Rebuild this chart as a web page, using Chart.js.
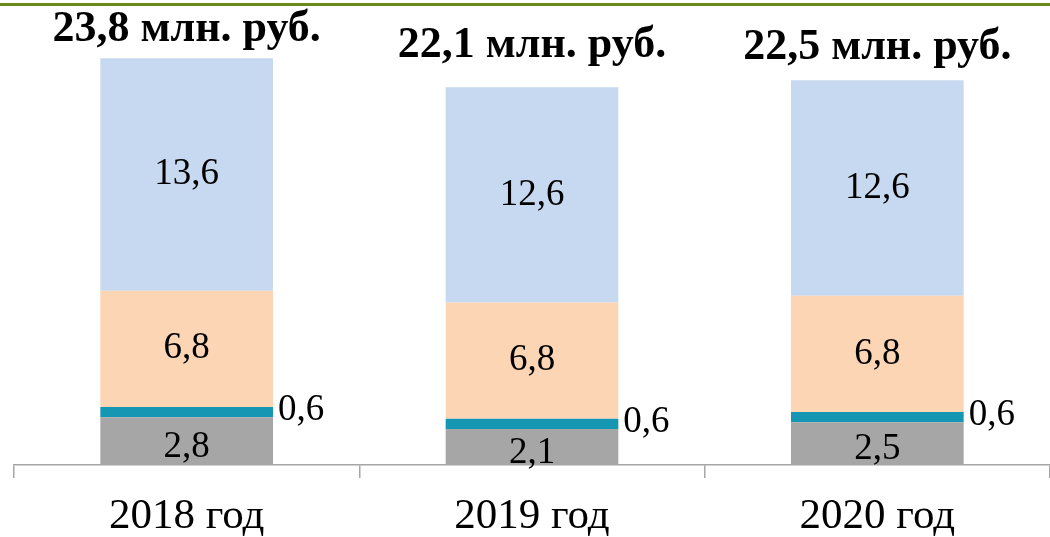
<!DOCTYPE html>
<html>
<head>
<meta charset="utf-8">
<script src="https://cdn.jsdelivr.net/npm/chart.js@4"></script>
<style>
  html, body { margin: 0; padding: 0; background: #fff; }
  #wrap { width: 1050px; height: 537px; position: relative; }
</style>
</head>
<body>
<div id="wrap"><canvas id="chart"></canvas></div>
<script>
// Расходы по годам, млн. руб.
const years = ['2018 год', '2019 год', '2020 год'];
const partGray = [2.8, 2.1, 2.5];
const partTeal = [0.6, 0.6, 0.6];
const partPeach = [6.8, 6.8, 6.8];
const partBlue = [13.6, 12.6, 12.6];
const totals = [23.8, 22.1, 22.5];

const FONT = '"Liberation Serif", "DejaVu Serif", serif';

// total captions sit a little differently above each bar
const totalOffsets = [28, 42, 33];

const labelsPlugin = {
    id: 'segLabels',
    afterDatasetsDraw(chart) {
        const ctx = chart.ctx;
        ctx.save();
        ctx.fillStyle = '#000';
        chart.data.datasets.forEach((ds, di) => {
            const meta = chart.getDatasetMeta(di);
            meta.data.forEach((bar, i) => {
                const v = ds.data[i];
                const txt = v.toFixed(1).replace('.', ',');
                ctx.font = '37px ' + FONT;
                ctx.textBaseline = 'middle';
                if (ds.sideLabel) {
                    ctx.textAlign = 'left';
                    ctx.fillText(txt, bar.x + bar.width / 2 + 5, (bar.y + bar.base) / 2 - 2);
                } else {
                    ctx.textAlign = 'center';
                    ctx.fillText(txt, bar.x, (bar.y + bar.base) / 2 + (ds.labelShift || 0));
                }
            });
        });
        // bold totals above each stack
        const top = chart.getDatasetMeta(chart.data.datasets.length - 1);
        ctx.font = 'bold 44px ' + FONT;
        ctx.textAlign = 'center';
        ctx.textBaseline = 'middle';
        top.data.forEach((bar, i) => {
            ctx.fillText(totals[i].toFixed(1).replace('.', ',') + ' млн. руб.', bar.x, bar.y - totalOffsets[i]);
        });
        ctx.restore();
    }
};

// olive rule along the top edge
const topRule = {
    id: 'topRule',
    beforeDraw(chart) {
        const ctx = chart.ctx;
        ctx.save();
        ctx.fillStyle = '#6b8a1c';
        ctx.fillRect(0, 3, chart.width, 3);
        ctx.restore();
    }
};

new Chart(document.getElementById('chart'), {
    type: 'bar',
    data: {
        labels: years,
        datasets: [
            { label: 'gray', data: partGray, backgroundColor: '#a6a6a6', labelShift: 6 },
            { label: 'teal', data: partTeal, backgroundColor: '#1597b4', sideLabel: true },
            { label: 'peach', data: partPeach, backgroundColor: '#fcd5b5' },
            { label: 'blue', data: partBlue, backgroundColor: '#c6d9f0' }
        ]
    },
    options: {
        responsive: true,
        maintainAspectRatio: false,
        animation: false,
        layout: { padding: { left: 14, right: 0, top: 0, bottom: 0 } },
        datasets: { bar: { categoryPercentage: 1, barPercentage: 0.5, borderWidth: 0 } },
        plugins: {
            legend: { display: false },
            tooltip: { enabled: false }
        },
        scales: {
            x: {
                stacked: true,
                grid: {
                    offset: true,
                    drawOnChartArea: false,
                    color: '#a6a6a6',
                    tickLength: 13,
                    lineWidth: 1.5
                },
                border: { color: '#a6a6a6', width: 1.5 },
                ticks: { color: '#000', font: { family: FONT, size: 43 }, padding: 13 },
                afterFit(scale) { scale.height = 72; }
            },
            y: {
                stacked: true,
                display: false,
                min: 0,
                max: 27.2
            }
        }
    },
    plugins: [labelsPlugin, topRule]
});
</script>
</body>
</html>
